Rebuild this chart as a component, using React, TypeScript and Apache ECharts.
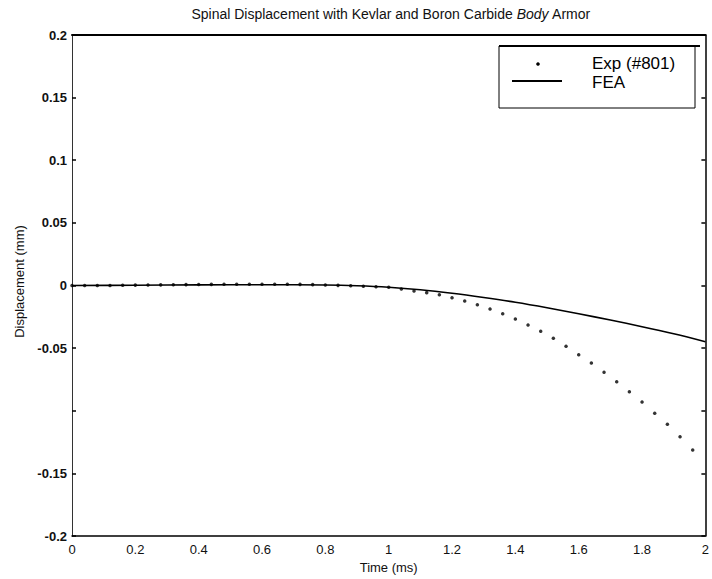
import React, { useEffect, useRef } from 'react';
import * as echarts from 'echarts';

const expTime = [0, 0.04, 0.08, 0.12, 0.16, 0.2, 0.24, 0.28, 0.32, 0.36, 0.4, 0.44, 0.48, 0.52, 0.56, 0.6, 0.64, 0.68, 0.72, 0.76, 0.8, 0.84, 0.88, 0.92, 0.96, 1, 1.04, 1.08, 1.12, 1.16, 1.2, 1.24, 1.28, 1.32, 1.36, 1.4, 1.44, 1.48, 1.52, 1.56, 1.6, 1.64, 1.68, 1.72, 1.76, 1.8, 1.84, 1.88, 1.92, 1.96];
const expDisp = [0, 0, 0, 0, 0.0002, 0.0003, 0.0004, 0.0005, 0.0006, 0.0007, 0.0008, 0.0009, 0.001, 0.001, 0.001, 0.001, 0.001, 0.001, 0.0009, 0.0007, 0.0004, 0.0001, -0.0002, -0.0006, -0.001, -0.0014, -0.0028, -0.0044, -0.0057, -0.0073, -0.0097, -0.0124, -0.0153, -0.0188, -0.0225, -0.0267, -0.0315, -0.0366, -0.0422, -0.0485, -0.0553, -0.0619, -0.0693, -0.0768, -0.0848, -0.093, -0.102, -0.1108, -0.1207, -0.1313];
const feaTime = [0, 0.2, 0.4, 0.6, 0.8, 0.9, 1.0, 1.1, 1.2, 1.3, 1.4, 1.5, 1.6, 1.7, 1.8, 1.9, 2.0];
const feaDisp = [0, 0.0002, 0.0005, 0.0006, 0.0004, -0.0002, -0.0014, -0.0034, -0.0062, -0.0096, -0.0134, -0.0178, -0.0226, -0.0276, -0.0329, -0.0386, -0.0449];
const xTickLabels = ['0', '0.2', '0.4', '0.6', '0.8', '1', '1.2', '1.4', '1.6', '1.8', '2'];
const yTickLabels = ['-0.2', '-0.15', '', '-0.05', '0', '0.05', '0.1', '0.15', '0.2'];
const seriesNames = ['Exp (#801)', 'FEA'];
const titleText = 'Spinal Displacement with Kevlar and Boron Carbide {i|Body} Armor';
const xName = 'Time (ms)';
const yName = 'Displacement (mm)';

export default function App() {
  const ref = useRef<HTMLDivElement>(null);
  useEffect(() => {
    const chart = echarts.init(ref.current!, null, { renderer: 'svg' });
    const font = '"Liberation Sans", Arial, Helvetica, sans-serif';
    const xMin = 0, xStep = 0.2, yMin = -0.2, yStep = 0.05;
    chart.setOption({
      animation: false,
      backgroundColor: '#ffffff',
      title: {
        text: titleText,
        left: 391,
        top: 7,
        padding: 0,
        textAlign: 'center',
        textStyle: {
          fontFamily: font, fontSize: 14, fontWeight: 'normal', color: '#111',
          rich: { i: { fontFamily: font, fontSize: 14, fontStyle: 'italic', color: '#111' } },
        },
      },
      grid: { left: 72, right: 3, top: 35, bottom: 43 },
      xAxis: [
        {
          type: 'value', min: 0, max: 2, interval: xStep, position: 'bottom',
          axisLine: { onZero: false, lineStyle: { color: '#000', width: 1.5 } },
          axisTick: { show: false },
          splitLine: { show: false },
          axisLabel: {
            margin: 7, fontSize: 13, fontFamily: font, color: '#111',
            formatter: (v: number) => xTickLabels[Math.round((v - xMin) / xStep)] ?? '',
          },
          name: xName, nameLocation: 'middle', nameGap: 23,
          nameTextStyle: { fontFamily: font, fontSize: 13, color: '#111' },
        },
        {
          type: 'value', min: 0, max: 2, position: 'top',
          axisLine: { onZero: false, lineStyle: { color: '#000', width: 2 } },
          axisTick: { show: false }, axisLabel: { show: false }, splitLine: { show: false },
        },
      ],
      yAxis: [
        {
          type: 'value', min: -0.2, max: 0.2, interval: yStep, position: 'left',
          axisLine: { onZero: false, lineStyle: { color: '#333', width: 1 } },
          axisTick: { inside: true, length: 4, lineStyle: { color: '#000', width: 1.5 } },
          splitLine: { show: false },
          axisLabel: {
            margin: 5, fontSize: 13, fontFamily: font, fontWeight: 'bold', color: '#111',
            formatter: (v: number) => yTickLabels[Math.round((v - yMin) / yStep)] ?? '',
          },
          name: yName, nameLocation: 'middle', nameGap: 46, nameRotate: 90,
          nameTextStyle: { fontFamily: font, fontSize: 13, color: '#111', padding: [0, 0, 0, 8] },
        },
        {
          type: 'value', min: -0.2, max: 0.2, interval: yStep, position: 'right',
          axisLine: { onZero: false, lineStyle: { color: '#000', width: 1.5 } },
          axisTick: { inside: true, length: 4, lineStyle: { color: '#000', width: 1.5 } },
          axisLabel: { show: false }, splitLine: { show: false },
        },
      ],
      series: [
        {
          name: seriesNames[0], type: 'scatter', xAxisIndex: 0, yAxisIndex: 0,
          symbol: 'circle', symbolSize: 3.5,
          itemStyle: { color: '#000' },
          data: expTime.map((t, i) => [t, expDisp[i]]),
          z: 3,
        },
        {
          name: seriesNames[1], type: 'line', xAxisIndex: 0, yAxisIndex: 0,
          showSymbol: false, symbol: 'none', smooth: 0.3,
          lineStyle: { color: '#000', width: 1.6 },
          data: feaTime.map((t, i) => [t, feaDisp[i]]),
          z: 2,
        },
      ],
      graphic: [
        {
          type: 'group', z: 100,
          children: [
            { type: 'rect', shape: { x: 499, y: 46, width: 196, height: 62 }, style: { fill: '#fff', stroke: '#000', lineWidth: 1 } },
            { type: 'line', shape: { x1: 499, y1: 46, x2: 700, y2: 46 }, style: { stroke: '#000', lineWidth: 2 } },
            { type: 'circle', shape: { cx: 538, cy: 64, r: 1.8 }, style: { fill: '#000' } },
            { type: 'line', shape: { x1: 512, y1: 81, x2: 562, y2: 81 }, style: { stroke: '#000', lineWidth: 1.8 } },
            { type: 'text', x: 592, y: 63, style: { text: seriesNames[0], fontFamily: font, fontSize: 17, fill: '#000', verticalAlign: 'middle', align: 'left' } },
            { type: 'text', x: 592, y: 82, style: { text: seriesNames[1], fontFamily: font, fontSize: 17, fill: '#000', verticalAlign: 'middle', align: 'left' } },
          ],
        },
      ],
    });
    return () => chart.dispose();
  }, []);
  return <div ref={ref} style={{ position: 'fixed', left: 0, top: 0, width: 712, height: 579 }} />;
}
